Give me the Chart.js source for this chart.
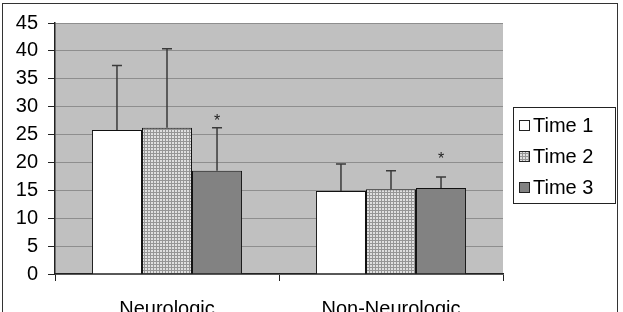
<!DOCTYPE html>
<html>
<head>
<meta charset="utf-8">
<script src="https://cdn.jsdelivr.net/npm/chart.js@4"></script>
<style>
  html, body { margin: 0; padding: 0; background: #fff; }
  canvas { display: block; }
</style>
</head>
<body>
<canvas id="timeChart" width="623" height="312"></canvas>
<script>
const categories = ['Neurologic', 'Non-Neurologic'];
const seriesNames = ['Time 1', 'Time 2', 'Time 3'];
const time1 = [25.8, 14.9];
const time2 = [26.2, 15.2];
const time3 = [18.5, 15.4];
// upper error bar lengths
const err1 = [11.6, 4.8];
const err2 = [14.2, 3.3];
const err3 = [7.7, 2.0];
// significance star positions (value units) over Time 3
const starTime3 = [28.0, 21.3];
const yTicks = [0, 5, 10, 15, 20, 25, 30, 35, 40, 45];

const FONT = { family: '"Liberation Sans", Arial, sans-serif', size: 20 };

function checkPattern() {
    const c = document.createElement('canvas');
    c.width = 3; c.height = 3;
    const g = c.getContext('2d');
    g.fillStyle = '#e0e0e0';
    g.fillRect(0, 0, 3, 3);
    g.fillStyle = '#969696';
    g.fillRect(0, 0, 3, 1);
    g.fillRect(0, 0, 1, 3);
    return document.getElementById('timeChart').getContext('2d').createPattern(c, 'repeat');
}

const fills = ['#ffffff', checkPattern(), '#828282'];
const errs = [err1, err2, err3];

const decor = {
    id: 'decor',
    beforeDraw(chart) {
        const { ctx, chartArea: a } = chart;
        ctx.save();
        ctx.fillStyle = '#fff';
        ctx.fillRect(0, 0, chart.width, chart.height);
        ctx.strokeStyle = '#333';
        ctx.lineWidth = 1;
        ctx.strokeRect(2.5, 3.5, 615, 320);
        ctx.fillStyle = '#c0c0c0';
        ctx.fillRect(a.left, a.top, a.right - a.left, a.bottom - a.top);
        ctx.restore();
    },
    afterDatasetsDraw(chart) {
        const { ctx } = chart;
        const y = chart.scales.y;
        ctx.save();
        ctx.strokeStyle = '#3a3a3a';
        ctx.lineWidth = 1.5;
        chart.data.datasets.forEach((ds, i) => {
            chart.getDatasetMeta(i).data.forEach((bar, j) => {
                const top = y.getPixelForValue(ds.data[j] + errs[i][j]);
                ctx.beginPath();
                ctx.moveTo(bar.x, bar.y);
                ctx.lineTo(bar.x, top);
                ctx.moveTo(bar.x - 5, top);
                ctx.lineTo(bar.x + 5, top);
                ctx.stroke();
            });
        });
        // stars
        ctx.fillStyle = '#222';
        ctx.font = '16px "Liberation Sans", Arial, sans-serif';
        ctx.textAlign = 'center';
        ctx.textBaseline = 'middle';
        chart.getDatasetMeta(2).data.forEach((bar, j) => {
            ctx.fillText('*', bar.x, y.getPixelForValue(starTime3[j]) + 4);
        });
        // legend
        const lx = 513, ly = 107, lw = 102, lh = 96;
        ctx.fillStyle = '#fff';
        ctx.fillRect(lx, ly, lw, lh);
        ctx.strokeStyle = '#222';
        ctx.lineWidth = 1;
        ctx.strokeRect(lx + 0.5, ly + 0.5, lw, lh);
        ctx.font = '20px "Liberation Sans", Arial, sans-serif';
        ctx.textAlign = 'left';
        seriesNames.forEach((name, i) => {
            const cy = ly + 18 + i * 31;
            ctx.fillStyle = fills[i];
            ctx.fillRect(lx + 6, cy - 5, 11, 11);
            ctx.strokeStyle = '#222';
            ctx.strokeRect(lx + 6.5, cy - 4.5, 10, 10);
            ctx.fillStyle = '#000';
            ctx.fillText(name, lx + 20, cy + 1);
        });
        ctx.restore();
    }
};

new Chart(document.getElementById('timeChart'), {
    type: 'bar',
    data: {
        labels: categories,
        datasets: [time1, time2, time3].map((vals, i) => ({
            label: seriesNames[i],
            data: vals,
            backgroundColor: fills[i],
            borderColor: '#111',
            borderWidth: 1,
            categoryPercentage: 0.67,
            barPercentage: 1
        }))
    },
    options: {
        responsive: false,
        animation: false,
        layout: { padding: { top: 23, right: 120, left: 0, bottom: 0 } },
        plugins: {
            legend: { display: false },
            tooltip: { enabled: false }
        },
        scales: {
            x: {
                afterFit: s => { s.height = 38; },
                grid: { drawOnChartArea: false, tickLength: 7, tickColor: '#222', offset: true },
                border: { color: '#222', width: 1.5 },
                ticks: { font: FONT, color: '#000', padding: 16 }
            },
            y: {
                min: 0,
                max: 45,
                afterFit: s => { s.width = 55; },
                afterBuildTicks: s => { s.ticks = yTicks.map(v => ({ value: v })); },
                grid: { color: '#8e8e8e', tickColor: '#222', tickLength: 7 },
                border: { color: '#222', width: 1.5 },
                ticks: { font: FONT, color: '#000', padding: 10 }
            }
        }
    },
    plugins: [decor]
});
</script>
</body>
</html>
